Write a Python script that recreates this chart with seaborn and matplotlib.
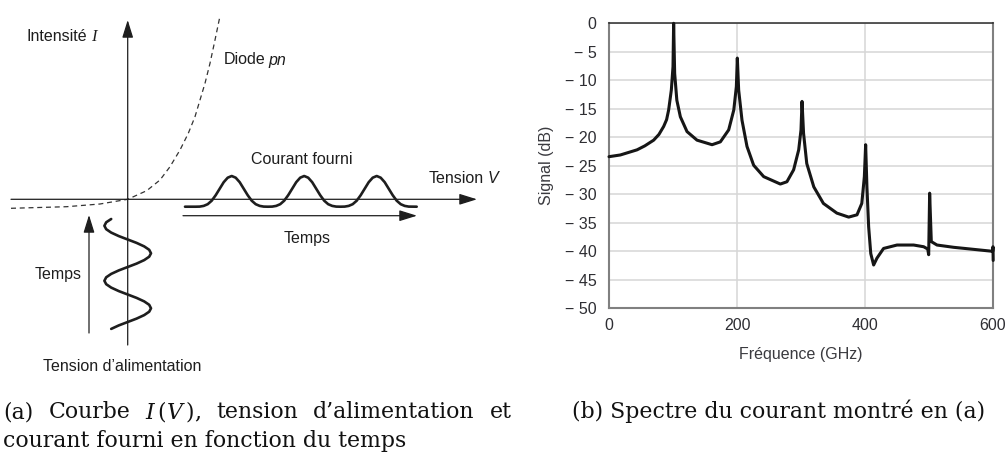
import matplotlib
matplotlib.use("Agg")
import matplotlib.pyplot as plt
import seaborn as sns
import pandas as pd

# ---- panel (b): spectrum ----
freq_ghz = [0, 17.7, 43.8, 56, 69.8, 78, 85.4, 90, 93.2, 97.4, 100, 101, 102.6, 106, 111.5,
            121.9, 137.5, 161, 174, 187, 195, 199, 200.5, 202.6, 207.8, 215.6, 226, 241.7,
            267.7, 278, 288.5, 296.4, 300, 301.6, 304, 309, 320, 335, 356, 374.5, 387.5, 395,
            399, 401, 403, 405.7, 409, 413.5, 418.7, 429, 450, 476, 491.7, 498, 499.5, 501,
            503.6, 512.5, 538.5, 564.6, 590.6, 599.5, 600, 600.3]
signal_db = [-23.4, -23.1, -22.2, -21.5, -20.5, -19.5, -18.1, -16.9, -15.2, -11.7, -7.6, 0,
             -8.8, -13.5, -16.4, -19, -20.5, -21.3, -20.8, -18.7, -15.2, -11.1, -6.1, -11.7,
             -17, -21.6, -24.9, -26.9, -28.2, -27.8, -25.7, -22.2, -18.7, -13.7, -19.3, -24.6,
             -28.7, -31.6, -33.3, -34, -33.6, -31.6, -26.9, -21.3, -28.7, -35.7, -40.4, -42.4,
             -41.2, -39.5, -38.9, -38.9, -39.2, -39.6, -40.6, -29.8, -38.3, -38.9, -39.3,
             -39.6, -39.9, -40.0, -39.2, -41.6]
x_ticks = [0, 200, 400, 600]
y_ticks = [0, -5, -10, -15, -20, -25, -30, -35, -40, -45, -50]
y_tick_labels = ["0", "− 5", "− 10", "− 15", "− 20", "− 25", "− 30", "− 35", "− 40", "− 45", "− 50"]

# ---- panel (a): schematic (pixel units) ----
diode_x = [11, 66.7, 100, 127.7, 146.7, 160, 170, 180, 188.3, 195, 200, 205, 210, 215, 220]
diode_y = [208.3, 206.7, 204, 199.3, 190.7, 180, 166.7, 150, 133.3, 116.7, 100, 83.3, 63.3, 40, 16]

supply_x = [111.2, 106.2, 104.4, 106.2, 111.2, 118.8, 127.7, 136.6, 144.2, 149.2, 151, 149.2,
            144.2, 136.6, 127.7, 118.8, 111.2, 106.2, 104.4, 106.2, 111.2, 118.8, 127.7, 136.6,
            144.2, 149.2, 151, 149.2, 144.2, 136.6, 127.7, 118.8, 111.2]
supply_y = [219, 222.3, 225.8, 229.2, 232.6, 236.1, 239.5, 242.9, 246.4, 249.8, 253.3, 256.7,
            260.1, 263.6, 267, 270.4, 273.9, 277.3, 280.8, 284.2, 287.6, 291.1, 294.5, 297.9,
            301.4, 304.8, 308.3, 311.7, 315.1, 318.6, 322, 325.4, 328.9]

current_x = [185, 195.7, 199.7, 203.7, 207.7, 211.7, 215.7, 219.7, 223.7, 227.7, 231.7, 235.7,
             239.7, 243.7, 247.7, 251.7, 255.7, 259.7, 263.7, 268, 272.2, 276.2, 280.2, 284.2,
             288.2, 292.2, 296.2, 300.2, 304.2, 308.2, 312.2, 316.2, 320.2, 324.2, 328.2, 332.2,
             336.2, 340.5, 344.7, 348.7, 352.7, 356.7, 360.7, 364.7, 368.7, 372.7, 376.7, 380.7,
             384.7, 388.7, 392.7, 396.7, 400.7, 404.7, 408.7, 416.7]
current_y = [206.7, 206.7, 206.6, 205.9, 204.2, 200.7, 195.2, 188.7, 182.2, 177.7, 176, 177.7,
             182.2, 188.7, 195.2, 200.7, 204.2, 205.9, 206.6, 206.7, 206.6, 205.9, 204.2, 200.7,
             195.2, 188.7, 182.2, 177.7, 176, 177.7, 182.2, 188.7, 195.2, 200.7, 204.2, 205.9,
             206.6, 206.7, 206.6, 205.9, 204.2, 200.7, 195.2, 188.7, 182.2, 177.7, 176, 177.7,
             182.2, 188.7, 195.2, 200.7, 204.2, 205.9, 206.6, 206.7]

caption_a1 = ["(a)", "Courbe", r"$I\,(V\,)$,", "tension", "d’alimentation", "et"]
caption_a2 = "courant fourni en fonction du temps"
caption_b = "(b) Spectre du courant montré en (a)"

sns.set_theme(style="white")
plt.rcParams["font.family"] = ["Liberation Sans", "DejaVu Sans"]
plt.rcParams["mathtext.fontset"] = "dejavuserif"

fig = plt.figure(figsize=(10.05, 4.58), dpi=100)

# ================= panel (a) =================
axa = fig.add_axes([0, 1 - 380 / 458, 520 / 1005, 380 / 458])
axa.set_xlim(0, 520)
axa.set_ylim(380, 0)
axa.axis("off")

ink = "#1e1e1e"
arrow = dict(arrowstyle="-|>,head_length=0.9,head_width=0.28", color=ink, lw=0.9,
             shrinkA=0, shrinkB=0)

# axes of the I(V) sketch
axa.annotate("", xy=(127.7, 20), xytext=(127.7, 345), arrowprops=arrow)
axa.annotate("", xy=(477, 199.3), xytext=(11, 199.3), arrowprops=arrow)
# time arrows
axa.annotate("", xy=(417, 215.7), xytext=(183, 215.7), arrowprops=arrow)
axa.annotate("", xy=(89, 215), xytext=(89, 333), arrowprops=arrow)

sns.lineplot(x=diode_x, y=diode_y, sort=False, estimator=None, ax=axa, color="#333333",
             lw=0.9, linestyle=(0, (4, 3)))
sns.lineplot(x=supply_x, y=supply_y, sort=False, estimator=None, ax=axa, color=ink, lw=1.9)
sns.lineplot(x=current_x, y=current_y, sort=False, estimator=None, ax=axa, color=ink, lw=1.9)

fs = 11.5
axa.text(26, 36.7, "Intensité", fontsize=fs, color=ink, va="center", ha="left")
axa.text(91, 36.7, "I", fontsize=fs + 0.5, color=ink, va="center", ha="left",
         family="Liberation Serif", style="italic")
axa.text(224, 59.3, "Diode", fontsize=fs, color=ink, va="center", ha="left")
axa.text(268, 60, "pn", fontsize=fs, color=ink, va="center", ha="left", style="italic")
axa.text(301.7, 160, "Courant fourni", fontsize=fs, color=ink, va="center", ha="center")
axa.text(428.3, 178.3, "Tension", fontsize=fs, color=ink, va="center", ha="left")
axa.text(488, 178.3, "V", fontsize=fs, color=ink, va="center", ha="left", style="italic")
axa.text(306.7, 238.3, "Temps", fontsize=fs, color=ink, va="center", ha="center")
axa.text(58.3, 275, "Temps", fontsize=fs, color=ink, va="center", ha="center")
axa.text(122.5, 366.7, "Tension d’alimentation", fontsize=fs, color=ink, va="center", ha="center")

# ================= panel (b) =================
axb = fig.add_axes([609 / 1005, 1 - 308.3 / 458, 384 / 1005, 285 / 458])
spec = pd.DataFrame({"Fréquence (GHz)": freq_ghz, "Signal (dB)": signal_db})
sns.lineplot(data=spec, x="Fréquence (GHz)", y="Signal (dB)", sort=False, estimator=None,
             ax=axb, color="#161616", lw=2.2, zorder=5, clip_on=False)
axb.set_xlim(0, 600)
axb.set_ylim(-50, 0)
axb.set_xticks(x_ticks)
axb.set_yticks(y_ticks)
axb.set_yticklabels(y_tick_labels)
axb.grid(True, color="#d6d6d6", lw=1.1)
axb.set_axisbelow(True)
label_col = "#2e2e33"
axb.tick_params(length=0, labelsize=11.5, labelcolor=label_col)
axb.tick_params(axis="y", pad=9)
axb.tick_params(axis="x", pad=7)
axb.set_xlabel("Fréquence (GHz)", fontsize=11.5, color="#3a3a3f", labelpad=10)
axb.set_ylabel("Signal (dB)", fontsize=11.5, color="#3a3a3f", labelpad=8)
axb.spines["top"].set_color("#2a2a2a")
axb.spines["top"].set_linewidth(1.1)
for side in ["left", "bottom", "right"]:
    axb.spines[side].set_color("#808080")
    axb.spines[side].set_linewidth(1.5)

# ================= captions =================
cap = dict(fontsize=15.8, family="DejaVu Serif", color="#111111", va="baseline", ha="left")
y1 = 1 - 418 / 458
y2 = 1 - 447 / 458

# first line is justified: spread the words between x=3 and x=512 px
renderer = fig.canvas.get_renderer()
words = [fig.text(0, y1, w, **cap) for w in caption_a1]
widths = [t.get_window_extent(renderer).width for t in words]
gap = (512 - 3 - sum(widths)) / (len(words) - 1)
xpos = 3
for t, w in zip(words, widths):
    t.set_x(xpos / 1005)
    xpos += w + gap
fig.text(3 / 1005, y2, caption_a2, **cap)
fig.text(572 / 1005, y1, caption_b, **cap)

fig.savefig("out.png", dpi=100)
